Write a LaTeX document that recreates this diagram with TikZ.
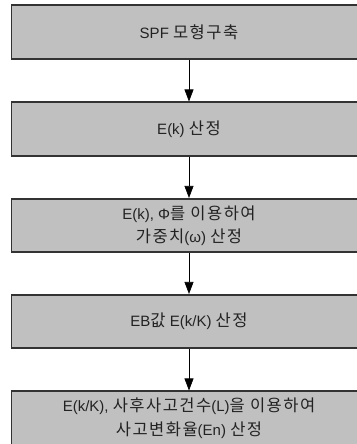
\documentclass[tikz,border=0pt]{standalone}
\usepackage{fontspec}
\setmainfont{Liberation Sans}
\newfontfamily\kr[Scale=1.1,LetterSpace=9]{Noto Sans CJK KR}
\usetikzlibrary{arrows.meta}
\definecolor{boxfill}{HTML}{C0C0C0}
\definecolor{boxline}{HTML}{333333}
\definecolor{txt}{HTML}{222222}
\begin{document}
\begin{tikzpicture}[x=1pt,y=-1pt,
  stepbox/.style={draw=boxline,line width=1.6pt,fill=boxfill,minimum width=355pt,minimum height=53.5pt,inner sep=0pt,align=center,text=txt,font=\fontsize{15}{23.5}\selectfont},
  flow/.style={draw=black,line width=0.6pt,-{Triangle[length=12pt,width=9pt]}}]
\useasboundingbox (0,0) rectangle (356,444);
\node[stepbox] (b1) at (189,32) {SPF {\kr 모형구축}};
\node[stepbox] (b2) at (189,129) {E(k) {\kr 산정}};
\node[stepbox] (b3) at (189,225.5) {E(k), Φ{\kr 를 이용하여}\\{\kr 가중치}(ω) {\kr 산정}};
\node[stepbox] (b4) at (189,321.5) {EB{\kr 값} E(k/K) {\kr 산정}};
\node[stepbox] (b5) at (189,418) {E(k/K), {\kr 사후사고건수}(L){\kr 을 이용하여}\\{\kr 사고변화율}(En) {\kr 산정}};
\draw[flow] (b1) -- (b2);
\draw[flow] (b2) -- (b3);
\draw[flow] (b3) -- (b4);
\draw[flow] (b4) -- (b5);
\end{tikzpicture}
\end{document}
